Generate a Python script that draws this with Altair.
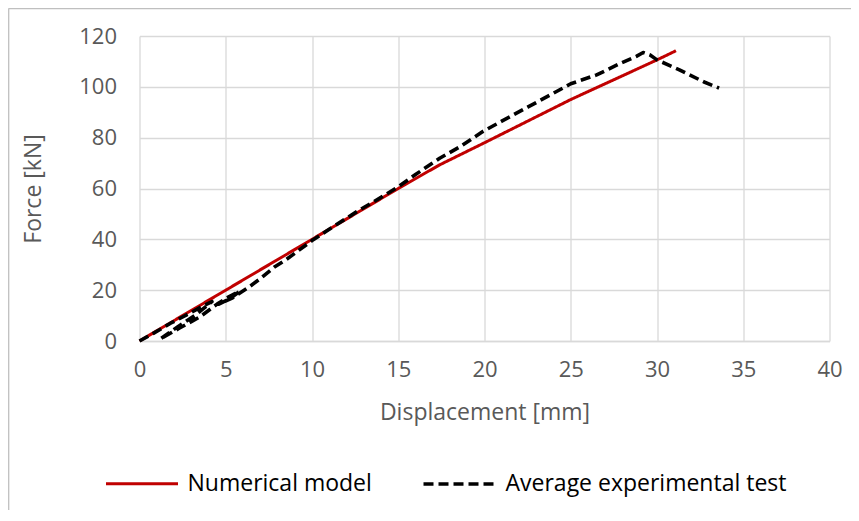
import altair as alt
import pandas as pd

# Numerical model
num_x = [0, 5, 10, 15, 17.4, 20, 25, 30, 31.1]
num_y = [0, 20, 40, 60, 69.3, 78, 95, 110.6, 114.2]

# Average experimental test
exp_x = [0, 0.8, 1.8, 2.8, 3.6, 4.2, 3.3, 2.2, 1.2, 2.3, 3.5, 4.5, 5.2, 5.8, 5.2, 4.6,
         5.4, 6.3, 7.0, 7.8, 8.5, 10, 11, 12.6, 14, 15, 16, 17.4, 18.6, 19.9, 21,
         22.5, 24, 25, 26.5, 27.9, 28.8, 29.2, 29.6, 30, 31.3, 32.7, 33.6]
exp_y = [0, 3, 7, 10.5, 13.5, 15.5, 10.5, 5.5, 0.8, 5, 9.5, 14.5, 17.5, 19.5, 16.5, 14.5,
         17, 21, 24.5, 29, 32, 39.5, 44, 50.9, 56.5, 60.7, 65.5, 71.9, 76.5, 82.4, 86.5,
         92, 97.5, 101.2, 104.7, 109.3, 112, 113.5, 112.5, 110.6, 106.7, 102, 99.5]

series = ["Numerical model", "Average experimental test"]
x_ticks = [0, 5, 10, 15, 20, 25, 30, 35, 40]
y_ticks = [0, 20, 40, 60, 80, 100, 120]

rows = []
for i, (x, y) in enumerate(zip(num_x, num_y)):
    rows.append({"series": series[0], "order": i, "x": x, "y": y})
for i, (x, y) in enumerate(zip(exp_x, exp_y)):
    rows.append({"series": series[1], "order": i, "x": x, "y": y})
df = pd.DataFrame(rows)

FONT = "Open Sans"
LBL = 22
TTL = 23
W, H = 690, 305

lines = alt.Chart(df).mark_line(strokeCap="butt", strokeJoin="round").encode(
    x=alt.X("x:Q", scale=alt.Scale(domain=[0, 40], nice=False),
            axis=alt.Axis(values=x_ticks, title="Displacement [mm]", grid=True,
                          gridColor="#D9D9D9", gridWidth=1.3, domainColor="#D9D9D9",
                          domainWidth=1.3, ticks=False, labelPadding=18, labelFlush=False,
                          labelFont=FONT, labelFontSize=LBL, labelColor="#595959",
                          titleFont=FONT, titleFontSize=TTL, titleColor="#595959",
                          titleFontWeight="normal", titlePadding=21)),
    y=alt.Y("y:Q", scale=alt.Scale(domain=[0, 120], nice=False),
            axis=alt.Axis(values=y_ticks, title="Force [kN]", grid=True,
                          gridColor="#D9D9D9", gridWidth=1.3, domain=False,
                          ticks=False, labelPadding=23, labelFlush=False,
                          labelFont=FONT, labelFontSize=LBL, labelColor="#595959",
                          titleFont=FONT, titleFontSize=TTL, titleColor="#595959",
                          titleFontWeight="normal", titlePadding=33)),
    color=alt.Color("series:N", scale=alt.Scale(domain=series, range=["#C00000", "#000000"]),
                    legend=alt.Legend(title=None, orient="none", direction="horizontal",
                                      legendX=-35, legendY=410, symbolType="stroke",
                                      symbolSize=5184, symbolStrokeWidth=3.2,
                                      labelFont=FONT, labelFontSize=TTL, labelColor="#000000",
                                      labelOffset=8, columnPadding=43, labelLimit=400)),
    strokeDash=alt.StrokeDash("series:N", scale=alt.Scale(domain=series, range=[[1, 0], [10, 5]]),
                              legend=None),
    strokeWidth=alt.StrokeWidth("series:N", scale=alt.Scale(domain=series, range=[3, 3.6]),
                                legend=None),
    order="order:Q",
)

one = pd.DataFrame({"a": [0]})
border_top = alt.Chart(one).mark_rule(color="#BFBFBF", strokeWidth=1.3).encode(
    x=alt.value(-131), x2=alt.value(730), y=alt.value(-27.3))
border_left = alt.Chart(one).mark_rule(color="#BFBFBF", strokeWidth=1.3).encode(
    x=alt.value(-130.8), y=alt.value(-27.5), y2=alt.value(500))

chart = alt.layer(border_top, border_left, lines).properties(
    width=W, height=H,
    autosize=alt.AutoSizeParams(type="none"),
    padding={"left": 131.5, "top": 28, "right": 21.5, "bottom": 169},
    background="white",
).configure_view(stroke=None)

chart.save("out.html", embed_options={"renderer": "svg", "actions": False})
